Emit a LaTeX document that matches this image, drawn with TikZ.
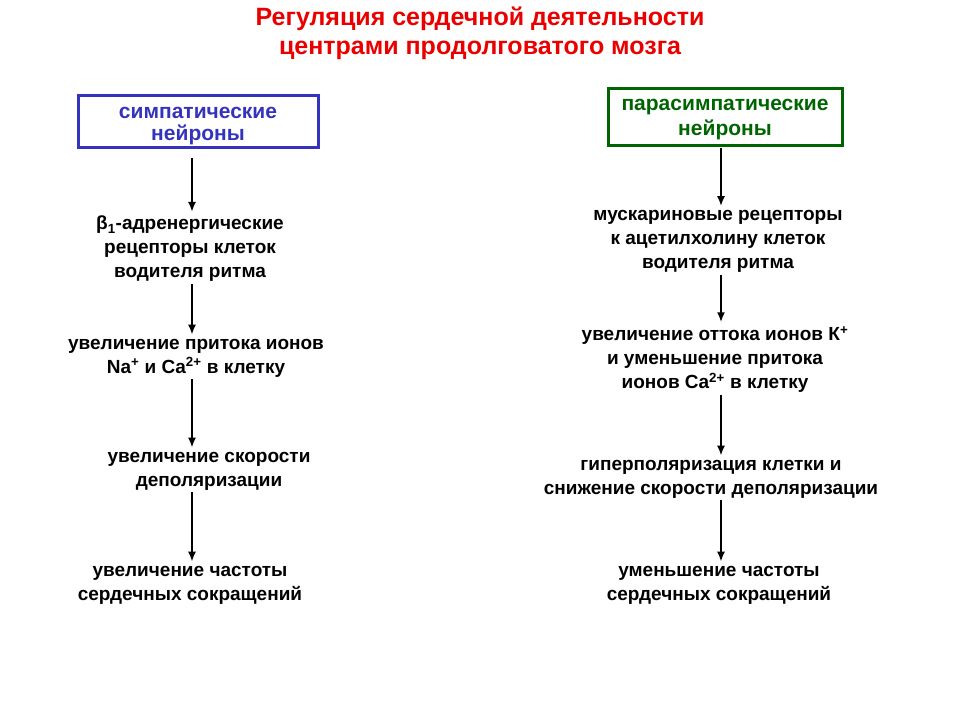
\documentclass[tikz,border=0pt]{standalone}
\usepackage{fontspec}
\setmainfont{Liberation Sans}
\usepackage{tikz}
\usetikzlibrary{arrows.meta}

\definecolor{titlered}{RGB}{235,0,0}
\definecolor{sympblue}{RGB}{51,51,190}
\definecolor{paragreen}{RGB}{0,100,0}

\tikzset{
  txt/.style={align=center, inner sep=1pt, font=\fontsize{19}{24}\selectfont\bfseries},
  box/.style={line width=3pt},
  boxtxt/.style={align=center, inner sep=0pt, font=\fontsize{21}{#1}\selectfont\bfseries},
  arr/.style={-{Latex[length=10pt,width=8pt]}, line width=2pt, shorten >=3pt, shorten <=1pt},
}

\begin{document}
\begin{tikzpicture}[x=1pt, y=-1pt]
        \useasboundingbox (0,0) rectangle (960,720);
        % Заголовок
        \node[align=center, text=titlered, font=\fontsize{25}{29}\selectfont\bfseries] (T) at (480,33) {Регуляция сердечной деятельности\\центрами продолговатого мозга};

        % Рамки
        \node[box, draw=sympblue, minimum width=240pt, minimum height=52pt] (S) at (198,121) {};
        \node[boxtxt=22, text=sympblue] (St) at (198,126) {симпатические\\нейроны};
        \node[box, draw=paragreen, minimum width=234pt, minimum height=57pt] (P) at (725,116.5) {};
        \node[boxtxt=25, text=paragreen] (Pt) at (725,119.5) {парасимпатические\\нейроны};

        % Узлы
        \node[txt] (S1) at (190,249) {β\textsubscript{1}-адренергические\\рецепторы клеток\\водителя ритма};
        \node[txt] (S2) at (196,358) {увеличение притока ионов\\Na\textsuperscript{+} и Ca\textsuperscript{2+} в клетку};
        \node[txt] (S3) at (209,471) {увеличение скорости\\деполяризации};
        \node[txt] (S4) at (190,585) {увеличение частоты\\сердечных сокращений};

        \node[txt] (P1) at (718,241.5) {мускариновые рецепторы\\к ацетилхолину клеток\\водителя ритма};
        \node[txt] (P2) at (715,359.5) {увеличение оттока ионов К\textsuperscript{+}\\и уменьшение притока\\ионов Ca\textsuperscript{2+} в клетку};
        \node[txt] (P3) at (711,479) {гиперполяризация клетки и\\снижение скорости деполяризации};
        \node[txt] (P4) at (719,585) {уменьшение частоты\\сердечных сокращений};

        \coordinate (L) at (192,0);
        \coordinate (R) at (721,0);

        % Стрелки
        \draw[arr, shorten <=9pt] (S.south -| L) -- (S1.north -| L); % к рецепторам
        \draw[arr] (S1.south -| L) -- (S2.north -| L);
        \draw[arr] (S2.south -| L) -- (S3.north -| L);
        \draw[arr] (S3.south -| L) -- (S4.north -| L);

        \draw[arr, shorten <=1pt] (P.south -| R) -- (P1.north -| R); % к рецепторам
        \draw[arr] (P1.south -| R) -- (P2.north -| R);
        \draw[arr] (P2.south -| R) -- (P3.north -| R);
        \draw[arr] (P3.south -| R) -- (P4.north -| R);
    
    \end{tikzpicture}
\end{document}
